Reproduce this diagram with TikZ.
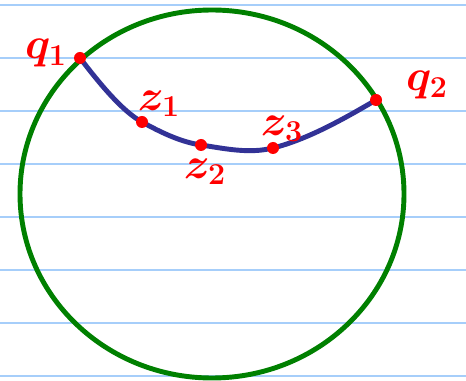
\documentclass[tikz,border=0pt]{standalone}
\usetikzlibrary{calc}
\definecolor{ruleblue}{RGB}{166,206,250}
\definecolor{circgreen}{RGB}{0,128,0}
\definecolor{arcblue}{RGB}{50,50,150}

\begin{document}
\begin{tikzpicture}[x=0.02cm,y=-0.02cm,
  lbl/.style={text=red,font=\fontsize{25}{29}\selectfont\boldmath,inner sep=0pt}]
  \useasboundingbox (0,0) rectangle (466,381);
  \fill[white] (0,0) rectangle (466,381);
  \foreach \y in {5,58,...,377}\draw[ruleblue,line width=1.1pt] (0,\y)--(466,\y);
  \draw[circgreen,line width=2.8pt] (212,194) ellipse [x radius=192,y radius=184];
  \coordinate (Q1) at (80,58); \coordinate (Z1) at (142,122); \coordinate (Z2) at (201,145);
  \coordinate (Z3) at (273,148); \coordinate (Q2) at (376,100);
  \draw[arcblue,line width=2.8pt,line cap=round]
    (Q1) .. controls ($(Q1)+(20,26)$) and ($(Z1)+(-20,-11)$) .. (Z1)
         .. controls ($(Z1)+(20,11)$) and ($(Z2)+(-20,-3)$) .. (Z2)
         .. controls ($(Z2)+(24,3.6)$) and ($(Z3)+(-24,6)$) .. (Z3)
         .. controls ($(Z3)+(34,-8.5)$) and ($(Q2)+(-34,20)$) .. (Q2);
  \foreach \p in {Q1,Z1,Z2,Z3,Q2}\fill[red] (\p) circle (6);
  \node[lbl] (q1) at (46,53) {$q_1$};
  \node[lbl] (z1) at (159,104) {$z_1$};
  \node[lbl] (z2) at (205,172) {$z_2$};
  \node[lbl] (z3) at (282,129) {$z_3$};
  \node[lbl] (q2) at (427,85) {$q_2$};
\end{tikzpicture}
\end{document}
